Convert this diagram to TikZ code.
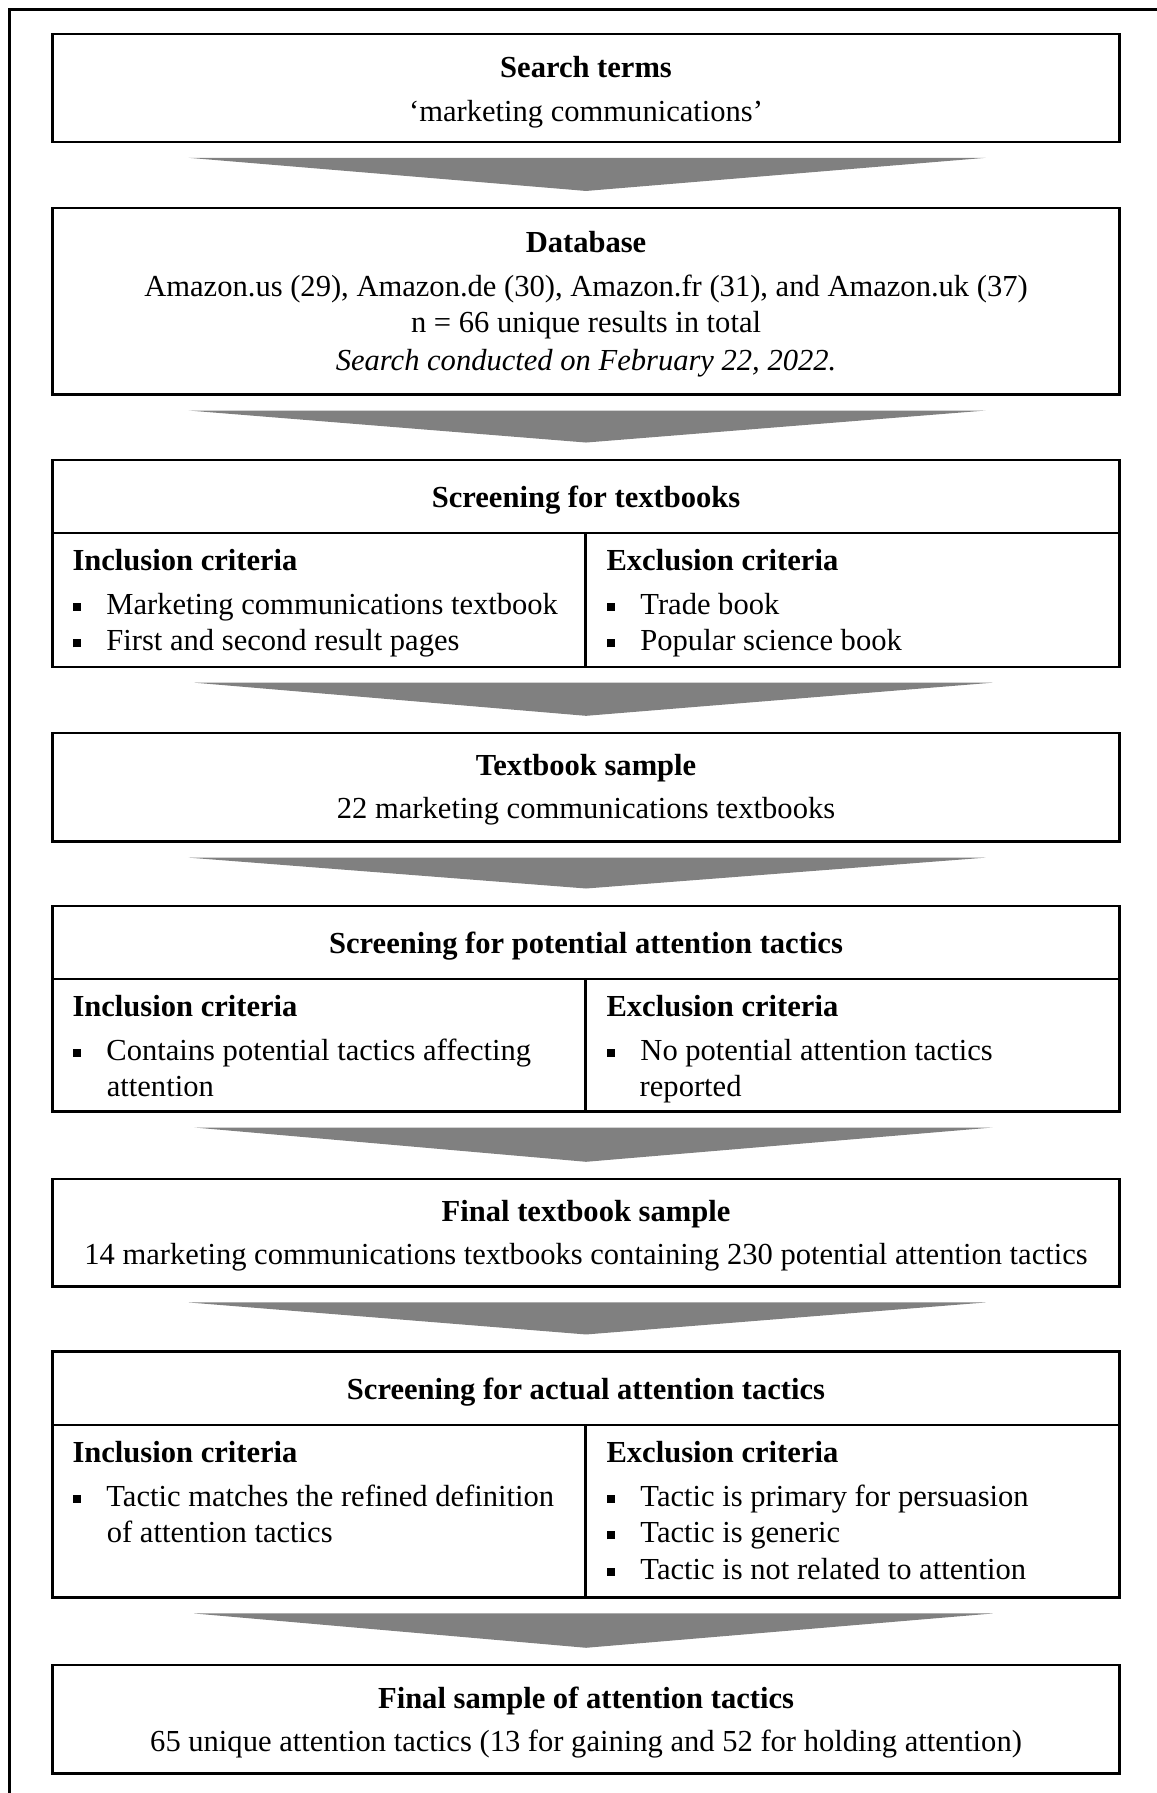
\documentclass[tikz,border=0pt]{standalone}
\usepackage{fontspec}
\setmainfont{Liberation Serif}
\usetikzlibrary{fit,calc}
\newcommand{\sqbul}{\makebox[13.3pt][l]{\raisebox{1.3pt}{\rule{3.2pt}{3.2pt}}}}
\newcommand{\flowarrow}[4]{\fill[arr] ($(#1.south)+(#3,13)$) -- ($(#1.south)+(#4,13)$) -- ($(#2.north)+(0,-14)$) -- cycle;}
\begin{document}
\begin{tikzpicture}[x=0.449pt,y=-0.449pt,
  box/.style={draw, line width=0.9pt, inner sep=0pt},
  ctxt/.style={font=\fontsize{12}{14.6}\selectfont, anchor=base, inner sep=0pt},
  ttl/.style={ctxt, font=\fontsize{12}{14.6}\selectfont\bfseries},
  ltxt/.style={font=\fontsize{12}{14.6}\selectfont, anchor=base west, inner sep=0pt},
  lttl/.style={ltxt, font=\fontsize{12}{14.6}\selectfont\bfseries},
  arr/.style={fill=black!50},
  frame/.style={line width=1.1pt}]
\useasboundingbox (0,0) rectangle (1011,1568);
% outer frame (cut off at right and bottom)
\coordinate (fbot) at (8,1570);
\coordinate (fcor) at (8,8);
\coordinate (fright) at (1013,8);
\draw[frame] (fbot) -- (fcor) -- (fright);

% Box 1
\node[box, fit={(46,30) (979,124)}] (b1) {};
\node[ttl] (b1t) at (512.5,68) {Search terms};
\node[ctxt] (b1a) at (512.5,106) {‘marketing communications’};

% Box 2
\node[box, fit={(46,182) (979,345)}] (b2) {};
\node[ttl] (b2t) at (512.5,221) {Database};
\node[ctxt] (b2a) at (512.5,259) {Amazon.us (29), Amazon.de (30), Amazon.fr (31), and Amazon.uk (37)};
\node[ctxt] (b2b) at (512.5,291) {n = 66 unique results in total};
\node[ctxt] (b2c) at (512.5,324) {\itshape Search conducted on February 22, 2022.};

% Box 3
\node[box, fit={(46,402) (979,583)}] (b3) {};
\node[box, fit={(46,402) (979,466)}] (b3h) {};
\node[box, fit={(46,466) (512,583)}] (b3l) {};
\node[box, fit={(512,466) (979,583)}] (b3r) {};
\node[ttl] (b3t) at (512.5,444) {Screening for textbooks};
\node[lttl] (b3li) at (63,499) {Inclusion criteria};
\node[ltxt] (b3l1) at (63,537) {\sqbul Marketing communications textbook};
\node[ltxt] (b3l2) at (63,569) {\sqbul First and second result pages};
\node[lttl] (b3re) at (530,499) {Exclusion criteria};
\node[ltxt] (b3r1) at (530,537) {\sqbul Trade book};
\node[ltxt] (b3r2) at (530,569) {\sqbul Popular science book};

% Box 4
\node[box, fit={(46,641) (979,736)}] (b4) {};
\node[ttl] (b4t) at (512.5,678) {Textbook sample};
\node[ctxt] (b4a) at (512.5,716) {22 marketing communications textbooks};

% Box 5
\node[box, fit={(46,792) (979,972)}] (b5) {};
\node[box, fit={(46,792) (979,856)}] (b5h) {};
\node[box, fit={(46,856) (512,972)}] (b5l) {};
\node[box, fit={(512,856) (979,972)}] (b5r) {};
\node[ttl] (b5t) at (512.5,834) {Screening for potential attention tactics};
\node[lttl] (b5li) at (63,889) {Inclusion criteria};
\node[ltxt] (b5l1) at (63,927) {\sqbul Contains potential tactics affecting};
\node[ltxt] (b5l2) at (93,959) {attention};
\node[lttl] (b5re) at (530,889) {Exclusion criteria};
\node[ltxt] (b5r1) at (530,927) {\sqbul No potential attention tactics};
\node[ltxt] (b5r2) at (559,959) {reported};

% Box 6
\node[box, fit={(46,1031) (979,1125)}] (b6) {};
\node[ttl] (b6t) at (512.5,1068) {Final textbook sample};
\node[ctxt] (b6a) at (512.5,1106) {14 marketing communications textbooks containing 230 potential attention tactics};

% Box 7
\node[box, fit={(46,1182) (979,1397)}] (b7) {};
\node[box, fit={(46,1182) (979,1246)}] (b7h) {};
\node[box, fit={(46,1246) (512,1397)}] (b7l) {};
\node[box, fit={(512,1246) (979,1397)}] (b7r) {};
\node[ttl] (b7t) at (512.5,1224) {Screening for actual attention tactics};
\node[lttl] (b7li) at (63,1279) {Inclusion criteria};
\node[ltxt] (b7l1) at (63,1317) {\sqbul Tactic matches the refined definition};
\node[ltxt] (b7l2) at (93,1349) {of attention tactics};
\node[lttl] (b7re) at (530,1279) {Exclusion criteria};
\node[ltxt] (b7r1) at (530,1317) {\sqbul Tactic is primary for persuasion};
\node[ltxt] (b7r2) at (530,1349) {\sqbul Tactic is generic};
\node[ltxt] (b7r3) at (530,1381) {\sqbul Tactic is not related to attention};

% Box 8
\node[box, fit={(46,1456) (979,1551)}] (b8) {};
\node[ttl] (b8t) at (512.5,1494) {Final sample of attention tactics};
\node[ctxt] (b8a) at (512.5,1532) {65 unique attention tactics (13 for gaining and 52 for holding attention)};

% Arrows
\flowarrow{b1}{b2}{-347.5}{349.5}
\flowarrow{b2}{b3}{-347.5}{349.5}
\flowarrow{b3}{b4}{-342.5}{355.5}
\flowarrow{b4}{b5}{-347.5}{349.5}
\flowarrow{b5}{b6}{-342.5}{355.5}
\flowarrow{b6}{b7}{-347.5}{349.5}
\flowarrow{b7}{b8}{-342.5}{355.5}
\end{tikzpicture}
\end{document}
